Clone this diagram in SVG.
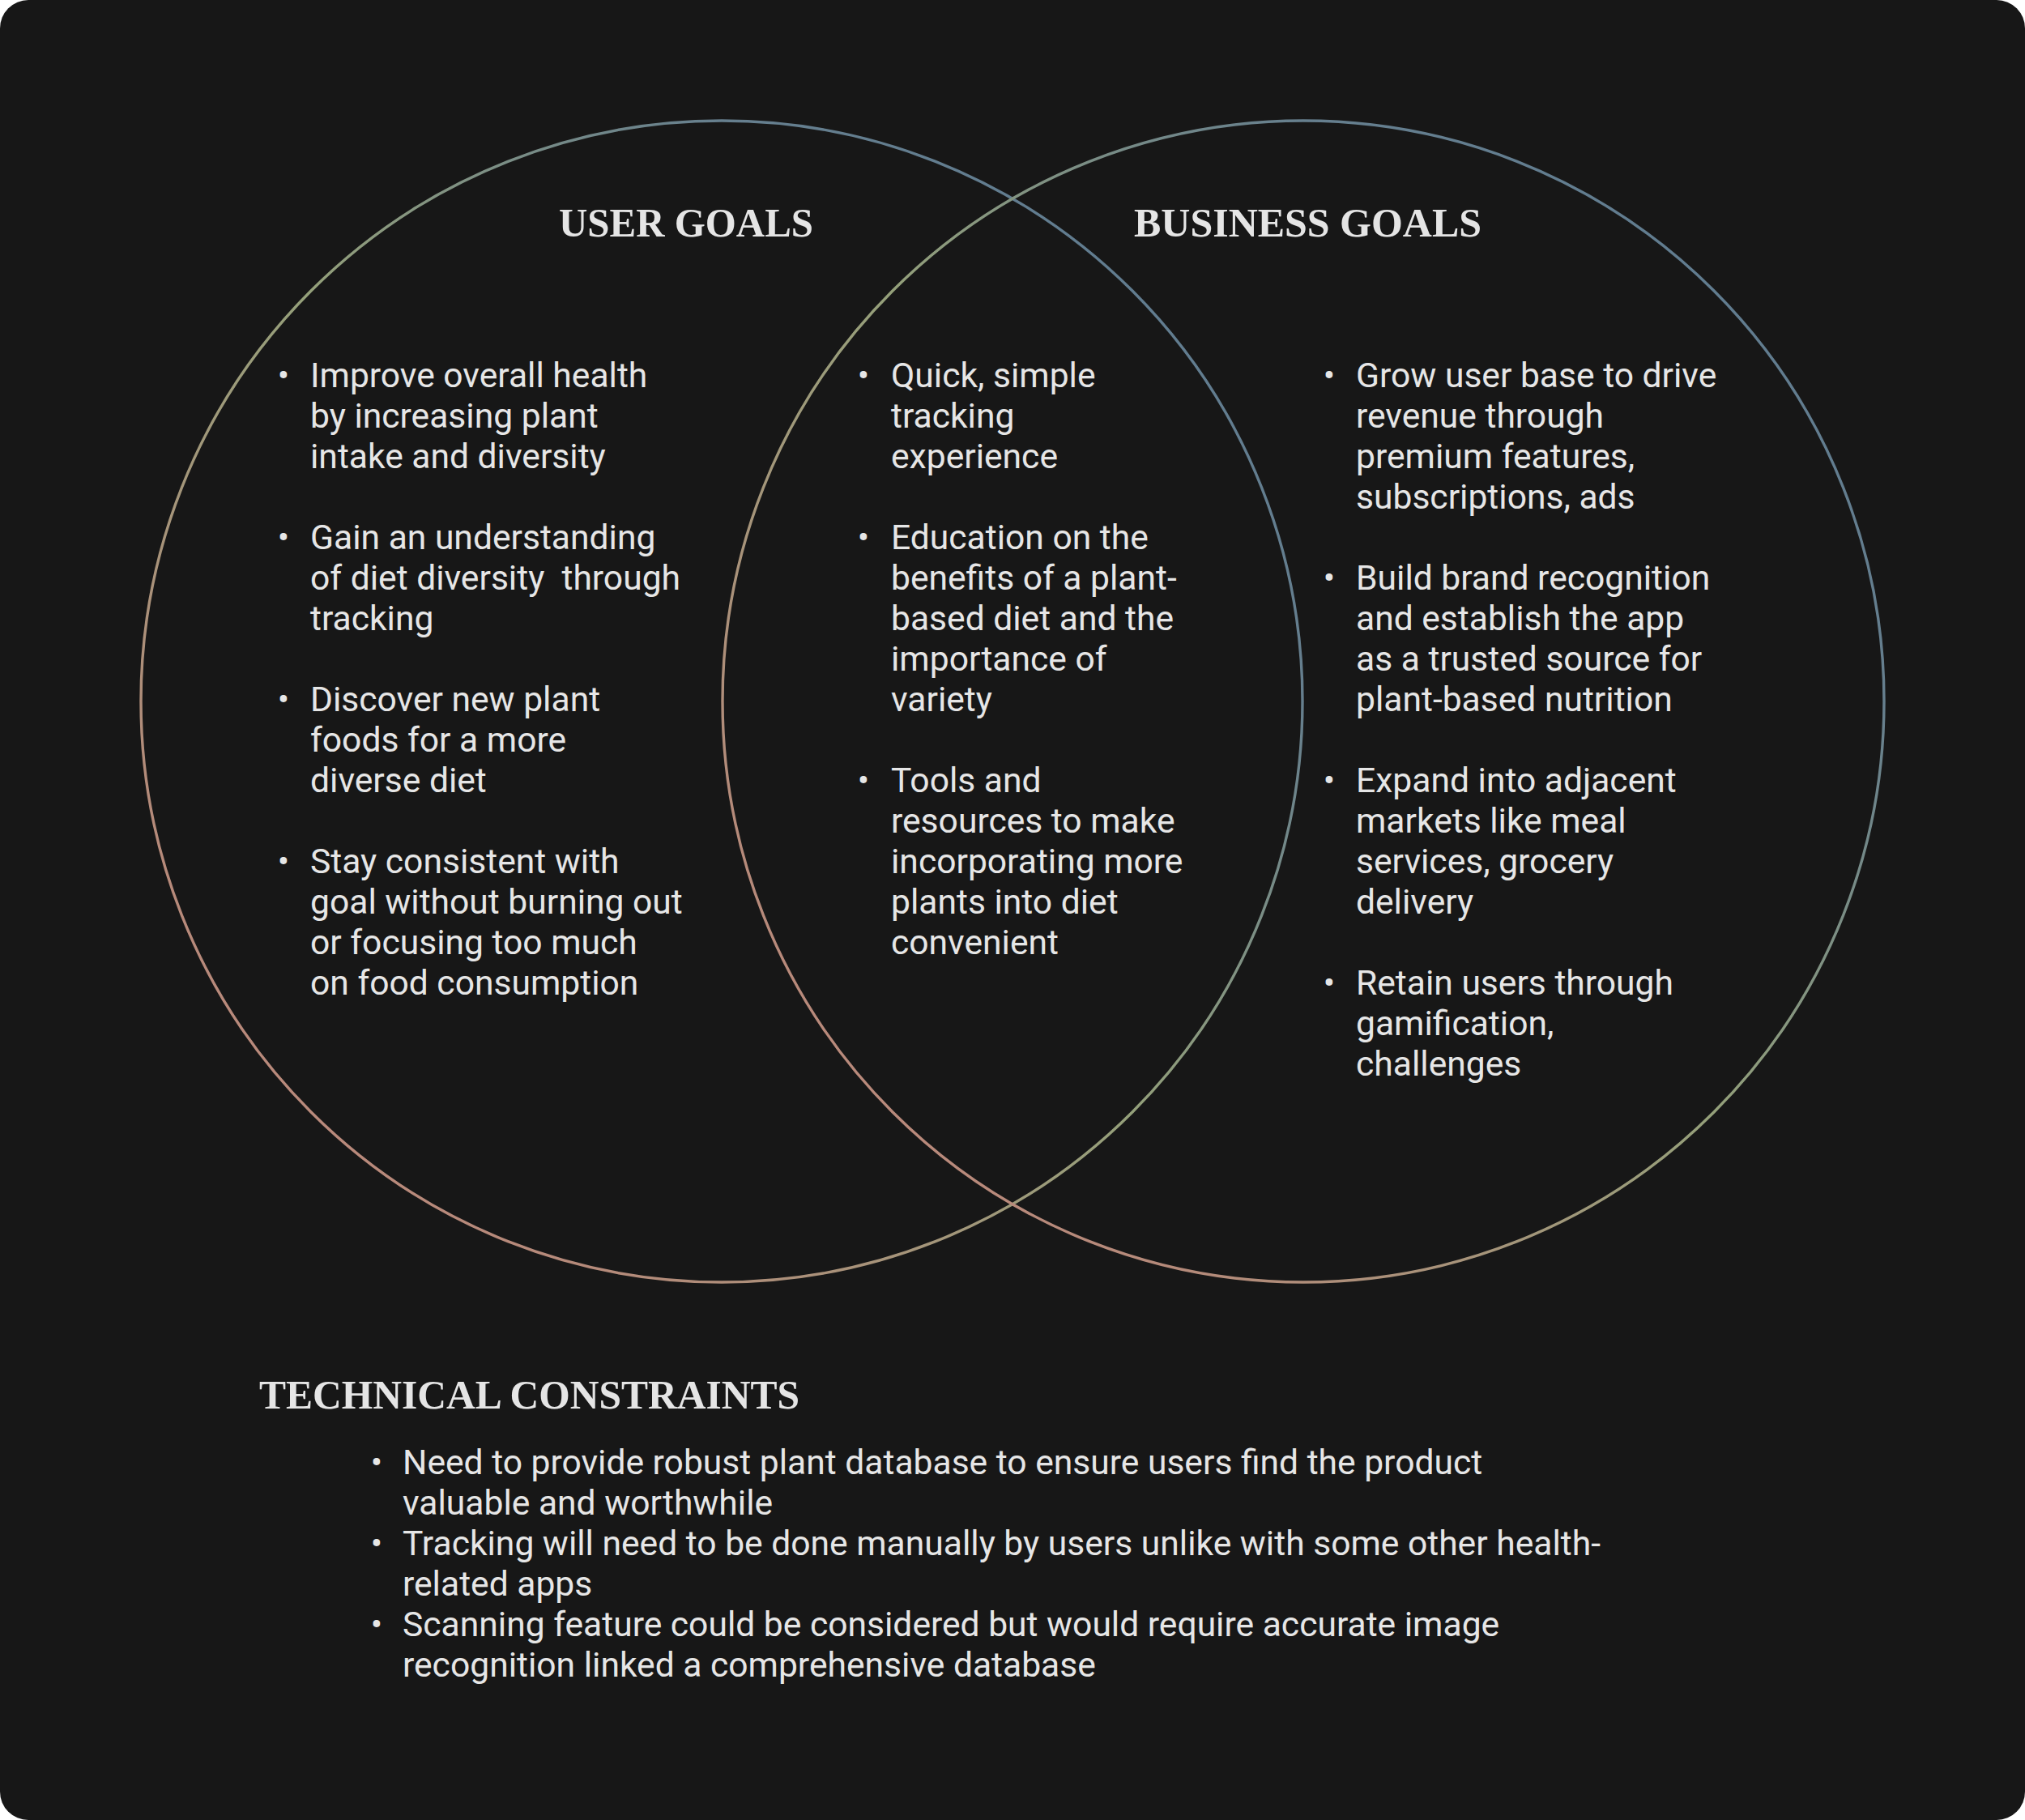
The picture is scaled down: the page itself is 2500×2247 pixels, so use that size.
<svg xmlns="http://www.w3.org/2000/svg" width="2500" height="2247" viewBox="0 0 2500 2247">
  <defs>
    <linearGradient id="ring" x1="1" y1="0" x2="0" y2="1" gradientUnits="objectBoundingBox">
      <stop offset="0" stop-color="#5a7891"/>
      <stop offset="0.25" stop-color="#667f8e"/>
      <stop offset="0.5" stop-color="#94a07a"/>
      <stop offset="0.8" stop-color="#b58a7a"/>
      <stop offset="1" stop-color="#c2887e"/>
    </linearGradient>
    <style>
      .ring { fill: none; stroke: url(#ring); stroke-width: 3.4; }
      .title { font-family: "Liberation Serif", "DejaVu Serif", serif; font-weight: bold; font-size: 51px; fill: #e5e5e5; }
      .body { font-family: Roboto, "Liberation Sans", sans-serif; font-size: 42.6px; fill: #e6e6e6; white-space: pre; }
      .bullet { font-family: Roboto, "Liberation Sans", sans-serif; font-size: 42.6px; fill: #e6e6e6; text-anchor: middle; }
    </style>
  </defs>

  <rect x="0" y="0" width="2500" height="2247" fill="#ffffff"/>
  <rect x="0" y="0" width="2500" height="2247" rx="35" ry="35" fill="#171717"/>

  <g id="circles">
    <circle id="user-circle" class="ring" cx="891" cy="866" r="717"/>
    <circle id="business-circle" class="ring" cx="1609" cy="866" r="717"/>
  </g>

  <g id="user-goals">
    <text class="title" x="690" y="292" textLength="314" lengthAdjust="spacingAndGlyphs">USER GOALS</text>
    <text class="bullet" x="350" y="478">•</text>
    <text class="body" x="383" y="478">Improve overall health</text>
    <text class="body" x="383" y="528">by increasing plant</text>
    <text class="body" x="383" y="578">intake and diversity</text>
    <text class="bullet" x="350" y="678">•</text>
    <text class="body" x="383" y="678">Gain an understanding</text>
    <text class="body" x="383" y="728">of diet diversity  through</text>
    <text class="body" x="383" y="778">tracking</text>
    <text class="bullet" x="350" y="878">•</text>
    <text class="body" x="383" y="878">Discover new plant</text>
    <text class="body" x="383" y="928">foods for a more</text>
    <text class="body" x="383" y="978">diverse diet</text>
    <text class="bullet" x="350" y="1078">•</text>
    <text class="body" x="383" y="1078">Stay consistent with</text>
    <text class="body" x="383" y="1128">goal without burning out</text>
    <text class="body" x="383" y="1178">or focusing too much</text>
    <text class="body" x="383" y="1228">on food consumption</text>
  </g>

  <g id="shared-goals">
    <text class="bullet" x="1066" y="478">•</text>
    <text class="body" x="1100" y="478">Quick, simple</text>
    <text class="body" x="1100" y="528">tracking</text>
    <text class="body" x="1100" y="578">experience</text>
    <text class="bullet" x="1066" y="678">•</text>
    <text class="body" x="1100" y="678">Education on the</text>
    <text class="body" x="1100" y="728">benefits of a plant-</text>
    <text class="body" x="1100" y="778">based diet and the</text>
    <text class="body" x="1100" y="828">importance of</text>
    <text class="body" x="1100" y="878">variety</text>
    <text class="bullet" x="1066" y="978">•</text>
    <text class="body" x="1100" y="978">Tools and</text>
    <text class="body" x="1100" y="1028">resources to make</text>
    <text class="body" x="1100" y="1078">incorporating more</text>
    <text class="body" x="1100" y="1128">plants into diet</text>
    <text class="body" x="1100" y="1178">convenient</text>
  </g>

  <g id="business-goals">
    <text class="title" x="1400" y="292" textLength="429" lengthAdjust="spacingAndGlyphs">BUSINESS GOALS</text>
    <text class="bullet" x="1641" y="478">•</text>
    <text class="body" x="1674" y="478">Grow user base to drive</text>
    <text class="body" x="1674" y="528">revenue through</text>
    <text class="body" x="1674" y="578">premium features,</text>
    <text class="body" x="1674" y="628">subscriptions, ads</text>
    <text class="bullet" x="1641" y="728">•</text>
    <text class="body" x="1674" y="728">Build brand recognition</text>
    <text class="body" x="1674" y="778">and establish the app</text>
    <text class="body" x="1674" y="828">as a trusted source for</text>
    <text class="body" x="1674" y="878">plant-based nutrition</text>
    <text class="bullet" x="1641" y="978">•</text>
    <text class="body" x="1674" y="978">Expand into adjacent</text>
    <text class="body" x="1674" y="1028">markets like meal</text>
    <text class="body" x="1674" y="1078">services, grocery</text>
    <text class="body" x="1674" y="1128">delivery</text>
    <text class="bullet" x="1641" y="1228">•</text>
    <text class="body" x="1674" y="1228">Retain users through</text>
    <text class="body" x="1674" y="1278">gamification,</text>
    <text class="body" x="1674" y="1328">challenges</text>
  </g>

  <g id="technical-constraints">
    <text class="title" x="320" y="1739" textLength="667" lengthAdjust="spacingAndGlyphs">TECHNICAL CONSTRAINTS</text>
    <text class="bullet" x="465" y="1820">•</text>
    <text class="body" x="497" y="1820">Need to provide robust plant database to ensure users find the product</text>
    <text class="body" x="497" y="1870">valuable and worthwhile</text>
    <text class="bullet" x="465" y="1920">•</text>
    <text class="body" x="497" y="1920">Tracking will need to be done manually by users unlike with some other health-</text>
    <text class="body" x="497" y="1970">related apps</text>
    <text class="bullet" x="465" y="2020">•</text>
    <text class="body" x="497" y="2020">Scanning feature could be considered but would require accurate image</text>
    <text class="body" x="497" y="2070">recognition linked a comprehensive database</text>
  </g>
</svg>
